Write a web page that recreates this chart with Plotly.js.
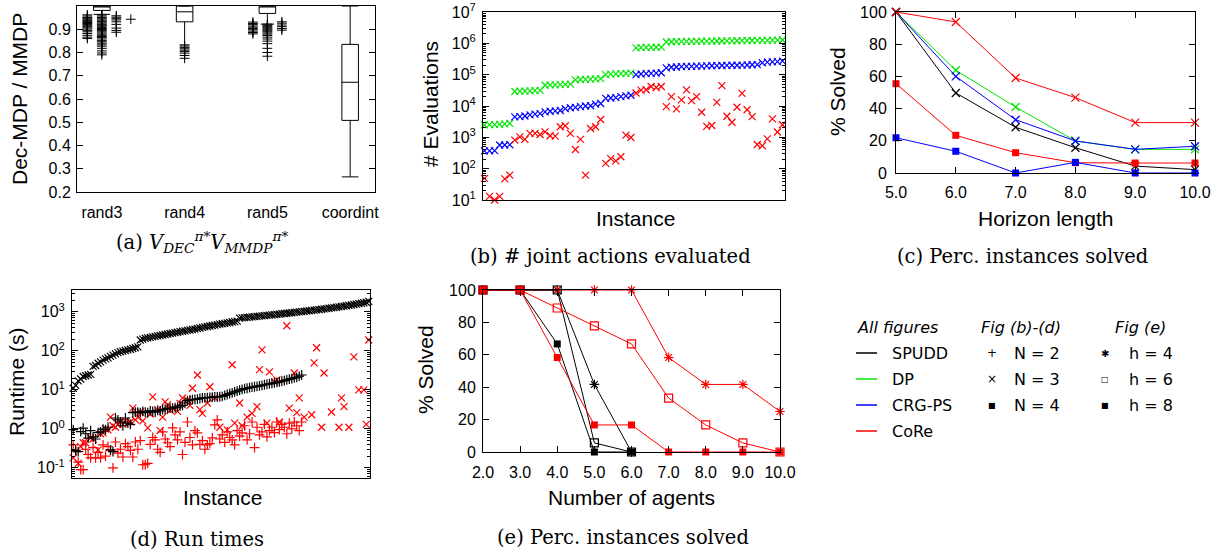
<!DOCTYPE html>
<html><head><meta charset="utf-8">
<script src="https://cdn.plot.ly/plotly-3.0.1.min.js"></script>
<style>html,body{margin:0;padding:0;background:#fff}#chart{width:1218px;height:550px}</style>
</head><body><div id="chart"></div>
<script>
// ================= DATA =================
// (a) box plots Dec-MDP / MMDP
const boxCategories = ['rand3', 'rand4', 'rand5', 'coordint'];
const boxQ1 = [0.981, 0.932, 0.968, 0.508];
const boxMedian = [0.998, 0.975, 0.998, 0.672];
const boxQ3 = [1.0, 1.0, 1.0, 0.835];
const boxLowerWhisker = [0.964, 0.833, 0.922, 0.265];
const boxUpperWhisker = [1.0, 1.0, 1.0, 1.0];
// outliers, by category and by side-by-side column (-2 .. +2)
const rand3OutColM2 = [0.952, 0.945];
const rand3OutColM1 = [0.962, 0.957, 0.951, 0.947, 0.943, 0.938, 0.934, 0.929, 0.925, 0.92, 0.915, 0.911, 0.906, 0.901, 0.895, 0.889, 0.882, 0.874, 0.866, 0.86];
const rand3OutCol0 = [0.962, 0.957, 0.951, 0.948, 0.944, 0.939, 0.934, 0.931, 0.926, 0.921, 0.917, 0.913, 0.908, 0.903, 0.899, 0.894, 0.889, 0.884, 0.879, 0.874, 0.869, 0.864, 0.858, 0.851, 0.846, 0.84, 0.833, 0.827, 0.818, 0.807, 0.798, 0.79];
const rand3OutColP1 = [0.958, 0.952, 0.947, 0.94, 0.932, 0.921, 0.905, 0.895, 0.887];
const rand3OutColP2 = [0.943];
const rand4OutCol0 = [0.828, 0.822, 0.816, 0.81, 0.804, 0.797, 0.787, 0.775];
const rand5OutColM1 = [0.931, 0.925, 0.921, 0.914, 0.909, 0.903, 0.898, 0.892, 0.886, 0.88];
const rand5OutCol0 = [0.922, 0.917, 0.913, 0.909, 0.905, 0.901, 0.897, 0.893, 0.889, 0.884, 0.879, 0.873, 0.866, 0.858, 0.849, 0.838, 0.818, 0.8, 0.784];
const rand5OutColP1 = [0.932, 0.926, 0.918, 0.911, 0.903, 0.896];

// (b) # evaluations per instance (N = 3)
const bDP = [2500,2550,2550,2600,2700,2800, 29000,30000,30000,30500,31000,31500, 46000,47000,47500,48000,49000,50000, 68000,70000,71000,72000,73000,75000, 100000,104000,106000,108000,110000,112000, 720000,730000,740000,745000,750000,760000, 1100000,1120000,1130000,1140000,1150000,1150000,1160000,1170000,1170000,1180000,1190000,1190000,1200000,1200000,1210000,1220000,1220000,1230000,1240000,1240000,1250000,1260000,1270000,1280000];
const bCRG = [370,370,375,570,570,580, 4500,4600,4800,5200,5500,5700, 6500,6800,7000,7200,8200,8800, 9000,9500,10000,10200,11500,12000, 17500,18000,18500,20000,21000,22000, 100000,105000,108000,110000,112000,115000, 165000,172000,176000,180000,183000,185000,187000,188000,190000,192000,194000,196000,198000,200000,200000,202000,204000,207000,210000,240000,250000,255000,262000,270000];
const bCoRe = [49,13,10,13,47,62, 810,1040,860,1330,1330,1230, 1500,1120,1090,2180,2350,1330, 410,860,62,1910,2180,3720, 147,210,178,240,1170,990, 26000,32000,33000,42000,39000,42000, 9600,20000,8100,15600,32600,14900,20000,6300,2250,2390,13100,44700,4700,3030,9100,25200,7600,4600,590,540,890,3870,1480,2520];

// (c) % solved vs horizon length
const cHorizon = [5, 6, 7, 8, 9, 10];
const cSpuddN3 = [100, 49.7, 28.4, 15.7, 4.3, 2.1];
const cDpN3 = [100, 63.8, 41, 19.9, 14.7, 14.7];
const cCrgN3 = [100, 60, 33.1, 19.9, 14.7, 16.6];
const cCoreN3 = [100, 93.8, 59, 46.8, 31.3, 31.3];
const cCoreN4 = [55.5, 23.4, 12.6, 6.4, 6.2, 6.2];
const cCrgN4 = [21.9, 13.5, 0, 6.6, 0, 0];

// (d) run times (s)
const dSpuddN3 = [11,13,17,19,22,23,24,25,40,42,48,52,58,62,66,72,78,84,90,95,98,102,106,110,115,120,126,190,200,210,215,222,228,235,242,248,255,262,270,278,285,292,300,310,318,326,334,342,352,362,374,386,398,410,422,434,446,458,470,482,495,508,520,534,548,562,576,690,700,712,720,730,740,752,764,776,788,800,812,825,838,850,864,878,892,906,920,934,950,966,982,998,1015,1032,1050,1068,1086,1105,1125,1145,1165,1188,1210,1235,1260,1285,1310,1340,1370,1400,1430,1465,1500,1540,1580,1620,1665,1710,1760,1850];
const dSpuddN2 = [0.95,0.28,0.26,0.85,1.05,0.75,0.58,0.9,0.62,0.55, 0.8,0.84,0.98,0.95,1.1,0.29,0.26,1.9,1.7,1.5, 1.2,1.9,1.4,1.3,2.6,2.7,2.7,2.6,2.8,2.7, 2.6,2.9,2.8,2.7,3.0,2.9,3.1,3.2,3.3,3.4, 3.4,3.5,3.6,3.9,4.0,4.6,5.3,5.5,5.6,5.7, 5.8,6.0,6.2,6.2,6.3,6.4,6.5,6.6,6.6,6.7, 6.8,7.2,7.6,8.0,8.4,8.9,9.3,9.8,10.3,10.8, 11.0,11.4,11.8,12.0,12.3,12.6,13.0,13.5,13.9,14.3, 14.7,15.1,15.5,16.0,16.6,17.2,18.0,18.8,19.5,20.3, 21.0,22.5,24.0];
const dCoreN3Instance = [1,3,4,5,6,8,9,11,12,13,14,15,16,17,18,19,20,21,22,23,24,25,26,27,28,29,31,32,33,35,36,37,38,39,40,41,43,44,45,47,48,49,51,52,53,55,56,58,60,63,65,66,68,69,71,73,75,76,77,79,80,82,83,84,87,88,90,91,92,94,97,98,99,101,102,105,108,109,110,112,114,116,118,119,120];
const dCoreN3 = [0.18,0.13,0.35,0.44,0.44,0.59,0.55,0.29,0.75,0.79,1.0,0.94,2.0,1.2,1.1,1.3,1.5,1.3,1.6,1.4,1.5,3.4,1.7,2.0,2.7,1.6,1.06,2.4,6.6,3.1,0.9,2.0,4.9,4.1,3.0,3.4,2.8,4.5,6.2,5.5,4.0,11,24,3.1,2.5,4.6,12,6.2,1.1,0.94,44,1.4,4.6,1.2,2.0,2.5,3.7,33,106,1.4,29,16,18,1.5,440,3.4,27,2.6,6.2,2.0,2.3,49,120,1.1,27,2.7,1.1,6.2,3.7,1.1,70,10,10,1.3,190];
const dCoreN2 = [0.39,0.26,0.14,0.09,0.09,0.3,0.22,0.18,0.33,0.18, 0.25,0.18,0.39,0.2,0.35,0.28,0.1,0.46,0.24,0.3, 0.19,0.42,0.35,0.28,0.19,0.46,0.3,0.5,0.12,0.12, 0.13,0.4,0.6,0.52,0.3,0.25,0.84,0.55,0.44,0.35, 1.06,0.7,0.52,0.84,0.22,0.45,1.5,0.6,0.39,0.9, 0.79,0.4,0.5,0.3,0.39,0.42,0.59,1.27,1.7,0.55, 0.7,0.45,0.84,0.6,0.52,0.39,0.9,0.65,0.79,1.2, 0.52,0.75,1.5,0.33,1.1,0.7,0.84,1.3,0.62,0.9, 1.1,0.8,1.5,0.95,1.3,1.1,0.75,1.4,1.0,1.5, 1.2,0.9,1.5];

// (e) % solved vs number of agents
const eAgents = [2, 3, 4, 5, 6, 7, 8, 9, 10];
const eSpuddH4 = [100, 100, 100, 41.7, 0];
const eSpuddH6 = [100, 100, 100, 5.6, 0];
const eSpuddH8 = [100, 100, 66.7, 0, 0];
const eCoreH4 = [100, 100, 100, 100, 100, 58.3, 41.7, 41.7, 25];
const eCoreH6 = [100, 100, 88.9, 77.8, 66.7, 33.3, 16.7, 5.6, 0];
const eCoreH8 = [100, 100, 58.3, 16.7, 16.7, 0, 0, 0, 0];

// log-axis tick labels
const bTickVals = [1e1, 1e2, 1e3, 1e4, 1e5, 1e6, 1e7];
const bTickText = ['10<sup>1</sup>','10<sup>2</sup>','10<sup>3</sup>','10<sup>4</sup>','10<sup>5</sup>','10<sup>6</sup>','10<sup>7</sup>'];
const dTickVals = [0.1, 1, 10, 100, 1000];
const dTickText = ['10<sup>-1</sup>','10<sup>0</sup>','10<sup>1</sup>','10<sup>2</sup>','10<sup>3</sup>'];

// ================= STYLE / LAYOUT =================
const W = 1218, H = 550;
const BLACK = '#000000', GREEN = '#00e600', BLUE = '#0000ff', RED = '#ff0000';
const SANS = 'Liberation Sans, Arial, sans-serif';
const SERIF = 'DejaVu Serif, Liberation Serif, serif';
const px = x => x / W;
const py = y => 1 - y / H;
const dom = (x0, x1, y0, y1) => ({ x: [px(x0), px(x1)], y: [py(y1), py(y0)] });
const D = {
  a: dom(77, 375, 6, 192),
  b: dom(483, 785, 12, 200),
  c: dom(896, 1195, 12, 173),
  d: dom(72, 370, 290, 478),
  e: dom(483, 780, 290, 452)
};
function seq(n) { const r = []; for (let i = 1; i <= n; i++) r.push(i); return r; }
function logMinor(lo, hi) { const r = []; for (let p = lo; p < hi; p++) for (let k = 2; k <= 9; k++) r.push(k * Math.pow(10, p)); return r; }

const traces = [];
// (a) boxes
const boxWhiskerW = [1.0, 0.6, 0.8, 1.0];
boxCategories.forEach((c, i) => {
  traces.push({
    type: 'box', x: [i + 1], q1: [boxQ1[i]], median: [boxMedian[i]], q3: [boxQ3[i]],
    lowerfence: [boxLowerWhisker[i]], upperfence: [boxUpperWhisker[i]],
    width: 0.2, whiskerwidth: boxWhiskerW[i], boxpoints: false,
    line: { color: BLACK, width: 1 }, fillcolor: 'rgba(0,0,0,0)',
    xaxis: 'x', yaxis: 'y', showlegend: false, hoverinfo: 'skip'
  });
});
const COL = 0.175;
const outGroups = [
  [1, -2, rand3OutColM2], [1, -1, rand3OutColM1], [1, 0, rand3OutCol0], [1, 1, rand3OutColP1], [1, 2, rand3OutColP2],
  [2, 0, rand4OutCol0],
  [3, -1, rand5OutColM1], [3, 0, rand5OutCol0], [3, 1, rand5OutColP1]
];
outGroups.forEach(([cat, col, vals]) => {
  traces.push({
    type: 'scatter', mode: 'markers', x: vals.map(() => cat + col * COL), y: vals,
    marker: { symbol: 'cross-thin-open', size: 7, color: BLACK, line: { color: BLACK, width: 1 } },
    xaxis: 'x', yaxis: 'y', showlegend: false, cliponaxis: false, hoverinfo: 'skip'
  });
});

// (b)
const xMark = (color, size) => ({ symbol: 'x-thin-open', size: size, color: color, line: { color: color, width: 1.2 } });
const pMark = (color, size) => ({ symbol: 'cross-thin-open', size: size, color: color, line: { color: color, width: 1.2 } });
const bInst = seq(bDP.length);
[[bDP, GREEN], [bCRG, BLUE], [bCoRe, RED]].forEach(([v, col]) => {
  traces.push({ type: 'scatter', mode: 'markers', x: bInst, y: v, marker: xMark(col, 7),
    xaxis: 'x2', yaxis: 'y2', showlegend: false, cliponaxis: false, hoverinfo: 'skip' });
});

// (c)
const sqMark = (color) => ({ symbol: 'square', size: 7, color: color, line: { color: color, width: 0 } });
[[cSpuddN3, BLACK, xMark(BLACK, 8)], [cDpN3, GREEN, xMark(GREEN, 8)], [cCrgN3, BLUE, xMark(BLUE, 8)],
 [cCoreN4, RED, sqMark(RED)], [cCrgN4, BLUE, sqMark(BLUE)], [cCoreN3, RED, xMark(RED, 8)]].forEach(([v, col, m]) => {
  traces.push({ type: 'scatter', mode: 'lines+markers', x: cHorizon, y: v, line: { color: col, width: 1 }, marker: m,
    xaxis: 'x3', yaxis: 'y3', showlegend: false, cliponaxis: false, hoverinfo: 'skip' });
});

// (d)
traces.push({ type: 'scatter', mode: 'markers', x: seq(dCoreN2.length), y: dCoreN2, marker: pMark(RED, 7),
  xaxis: 'x4', yaxis: 'y4', showlegend: false, cliponaxis: false, hoverinfo: 'skip' });
traces.push({ type: 'scatter', mode: 'markers', x: dCoreN3Instance, y: dCoreN3, marker: xMark(RED, 7),
  xaxis: 'x4', yaxis: 'y4', showlegend: false, cliponaxis: false, hoverinfo: 'skip' });
traces.push({ type: 'scatter', mode: 'markers', x: seq(dSpuddN2.length), y: dSpuddN2, marker: pMark(BLACK, 7),
  xaxis: 'x4', yaxis: 'y4', showlegend: false, cliponaxis: false, hoverinfo: 'skip' });
traces.push({ type: 'scatter', mode: 'markers', x: seq(dSpuddN3.length), y: dSpuddN3, marker: xMark(BLACK, 7),
  xaxis: 'x4', yaxis: 'y4', showlegend: false, cliponaxis: false, hoverinfo: 'skip' });

// (e)
const astMark = (color) => ({ symbol: 'asterisk-open', size: 8, color: color, line: { color: color, width: 1.2 } });
const osqMark = (color) => ({ symbol: 'square-open', size: 8, color: color, line: { color: color, width: 1.2 } });
[[eSpuddH4, BLACK, astMark(BLACK)], [eCoreH4, RED, astMark(RED)],
 [eSpuddH6, BLACK, osqMark(BLACK)], [eCoreH6, RED, osqMark(RED)],
 [eSpuddH8, BLACK, sqMark(BLACK)], [eCoreH8, RED, sqMark(RED)]].forEach(([v, col, m]) => {
  traces.push({ type: 'scatter', mode: 'lines+markers', x: eAgents.slice(0, v.length), y: v, line: { color: col, width: 1 }, marker: m,
    xaxis: 'x5', yaxis: 'y5', showlegend: false, cliponaxis: false, hoverinfo: 'skip' });
});

// axes
const tickFont = { family: SANS, size: 16, color: BLACK };
function ax(domain, extra) {
  return Object.assign({ domain: domain, showline: true, linecolor: BLACK, linewidth: 1, mirror: 'allticks',
    ticks: 'inside', ticklen: 6, tickwidth: 1, tickcolor: BLACK, showgrid: false, zeroline: false,
    tickfont: tickFont, fixedrange: true, automargin: false }, extra);
}
const layout = {
  width: W, height: H, margin: { l: 0, r: 0, t: 0, b: 0 }, paper_bgcolor: '#fff', plot_bgcolor: '#fff',
  showlegend: false, boxmode: 'overlay',
  xaxis: ax(D.a.x, { anchor: 'y', range: [0.7, 4.3], tickmode: 'array', tickvals: [1, 2, 3, 4], ticktext: boxCategories, ticks: '', mirror: true, ticklabelstandoff: 6 }),
  yaxis: ax(D.a.y, { anchor: 'x', range: [0.2, 1.0], tick0: 0.2, dtick: 0.1, ticklabelstandoff: 2 }),
  xaxis2: ax(D.b.x, { anchor: 'y2', range: [0.7, 60.5], showticklabels: false, ticks: '', mirror: true }),
  yaxis2: ax(D.b.y, { anchor: 'x2', type: 'log', range: [1, 7], tickmode: 'array', tickvals: bTickVals, ticktext: bTickText, ticklabelstandoff: 3,
    minor: { tickmode: 'array', tickvals: logMinor(1, 7), ticks: 'inside', ticklen: 3, tickcolor: BLACK, showgrid: false } }),
  xaxis3: ax(D.c.x, { anchor: 'y3', range: [5, 10], tick0: 5, dtick: 1, tickformat: '.1f', ticklabelstandoff: 5 }),
  yaxis3: ax(D.c.y, { anchor: 'x3', range: [0, 100], tick0: 0, dtick: 20, ticklabelstandoff: 5 }),
  xaxis4: ax(D.d.x, { anchor: 'y4', range: [0.5, 120.5], showticklabels: false, ticks: '', mirror: true }),
  yaxis4: ax(D.d.y, { anchor: 'x4', type: 'log', range: [-1.26, 3.56], tickmode: 'array', tickvals: dTickVals, ticktext: dTickText, ticklabelstandoff: 3,
    minor: { tickmode: 'array', tickvals: logMinor(-2, 4), ticks: 'inside', ticklen: 3, tickcolor: BLACK, showgrid: false } }),
  xaxis5: ax(D.e.x, { anchor: 'y5', range: [2, 10], tick0: 2, dtick: 1, tickformat: '.1f', ticklabelstandoff: 6 }),
  yaxis5: ax(D.e.y, { anchor: 'x5', range: [0, 100], tick0: 0, dtick: 20, ticklabelstandoff: 3 }),
  annotations: [], shapes: []
};

function txt(text, x, y, opts) {
  layout.annotations.push(Object.assign({ text: text, x: px(x), y: py(y), xref: 'paper', yref: 'paper', showarrow: false,
    xanchor: 'center', yanchor: 'middle', font: { family: SANS, size: 21, color: BLACK } }, opts || {}));
}
// axis titles
txt('Dec-MDP / MMDP', 20, 99, { textangle: -90 });
txt('# Evaluations', 430, 104, { textangle: -90 });
txt('Instance', 635, 218);
txt('% Solved', 838, 92, { textangle: -90 });
txt('Horizon length', 1045, 218);
txt('Runtime (s)', 16, 382, { textangle: -90 });
txt('Instance', 222, 497);
txt('% Solved', 425, 370, { textangle: -90 });
txt('Number of agents', 631, 498);
// captions
const capFont = { family: SERIF, size: 19.5, color: BLACK };
txt('(a) <i>V</i><sub><i>DEC</i></sub><sup><i>π</i>*</sup><i>V</i><sub><i>MMDP</i></sub><sup><i>π</i>*</sup>', 202, 242, { font: capFont });
txt('(b) # joint actions evaluated', 610, 256, { font: capFont });
txt('(c) Perc. instances solved', 1022, 256, { font: capFont });
txt('(d) Run times', 197, 539, { font: capFont });
txt('(e) Perc. instances solved', 623, 537, { font: capFont });

// custom legend
const LF = { family: 'DejaVu Sans, sans-serif', size: 16, color: BLACK };
const LFI = { family: 'DejaVu Sans, sans-serif', size: 16, color: BLACK, style: 'italic' };
txt('All figures', 855, 327, { xanchor: 'left', font: LFI });
txt('Fig (b)-(d)', 979, 327, { xanchor: 'left', font: LFI });
txt('Fig (e)', 1113, 327, { xanchor: 'left', font: LFI });
const legNames = ['SPUDD', 'DP', 'CRG-PS', 'CoRe'];
const legColors = [BLACK, GREEN, BLUE, RED];
const rowsY = [353, 379, 405, 431];
legNames.forEach((n, i) => {
  layout.shapes.push({ type: 'line', xref: 'paper', yref: 'paper', x0: px(856), x1: px(877), y0: py(rowsY[i]), y1: py(rowsY[i]),
    line: { color: legColors[i], width: 1.5 } });
  txt(n, 890, rowsY[i], { xanchor: 'left', font: LF });
});
const legN = ['N = 2', 'N = 3', 'N = 4'];
const legNSym = ['+', '×', '■'];
const legH = ['h = 4', 'h = 6', 'h = 8'];
const legHSym = ['✱', '□', '■'];
legN.forEach((n, i) => {
  txt(legNSym[i], 992, rowsY[i], { font: { family: 'DejaVu Sans, sans-serif', size: i === 2 ? 8 : 12, color: BLACK } });
  txt(n, 1012, rowsY[i], { xanchor: 'left', font: LF });
  txt(legHSym[i], 1105, rowsY[i], { font: { family: 'DejaVu Sans, sans-serif', size: i === 0 ? 10 : 8, color: BLACK } });
  txt(legH[i], 1127, rowsY[i], { xanchor: 'left', font: LF });
});

Plotly.newPlot('chart', traces, layout, { staticPlot: true, displayModeBar: false });
</script></body></html>
